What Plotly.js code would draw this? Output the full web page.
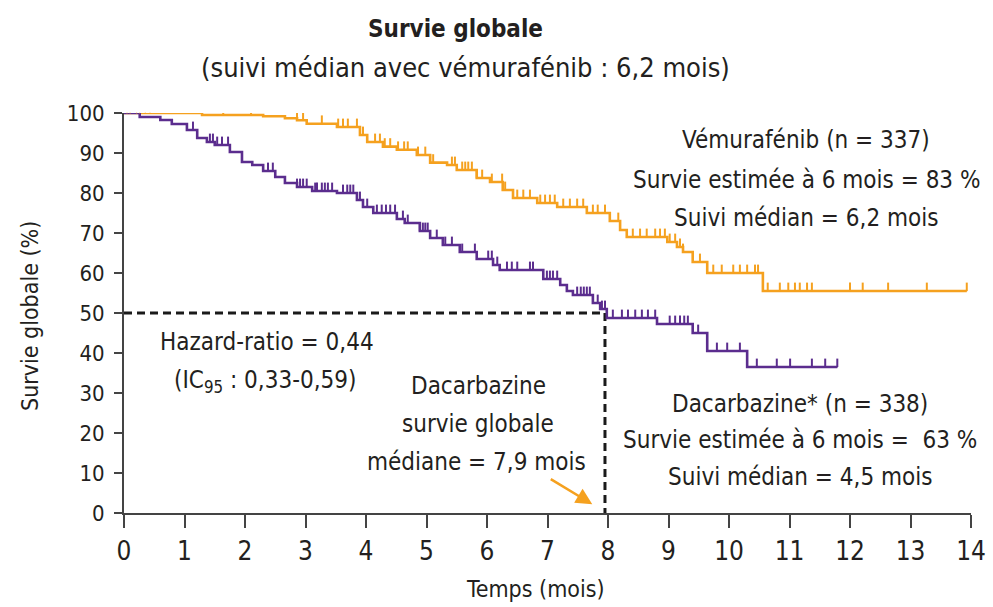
<!DOCTYPE html>
<html>
<head>
<meta charset="utf-8">
<script src="https://cdn.plot.ly/plotly-3.0.1.min.js"></script>
<style>html,body{margin:0;padding:0;background:#fff;}#chart{width:993px;height:607px;}</style>
</head>
<body>
<div id="chart"></div>
<script>
// ---- Data ----
// Vémurafénib: step times (months) and survival (%) after each step
const vemTimes = [0, 1.29, 2.30, 2.66, 2.86, 3.02, 3.52, 3.90, 4.02, 4.28, 4.51, 4.84, 5.06, 5.34, 5.50, 5.83, 6.05, 6.26, 6.43, 6.83, 7.16, 7.65, 8.03, 8.20, 8.31, 8.98, 9.14, 9.24, 9.40, 9.64, 10.56, 13.93];
const vemSurv  = [100, 99.5, 99.2, 98.7, 98.2, 97.3, 96.5, 94.5, 92.75, 91.6, 90.8, 89.5, 87.6, 87.0, 85.75, 83.75, 82.75, 80.75, 78.75, 77.5, 76.5, 75.0, 73.0, 70.75, 69.0, 67.75, 66.5, 65.25, 62.75, 60.0, 55.5, 55.5];
const vemCensor = [0.05, 0.10, 0.21, 0.26, 0.35, 0.43, 1.64, 2.10, 2.86, 2.96, 3.27, 3.54, 3.62, 3.70, 3.85, 3.95, 4.15, 4.23, 4.31, 4.40, 4.53, 4.63, 4.69, 4.86, 4.98, 5.06, 5.11, 5.42, 5.47, 5.59, 5.64, 5.69, 5.75, 5.83, 5.92, 6.08, 6.25, 6.30, 6.50, 6.60, 6.71, 6.88, 6.96, 7.04, 7.12, 7.26, 7.37, 7.49, 7.59, 7.75, 7.83, 7.95, 8.17, 8.41, 8.53, 8.64, 8.78, 8.86, 8.94, 9.02, 9.11, 9.19, 9.24, 9.52, 9.74, 9.88, 10.07, 10.18, 10.30, 10.43, 10.48, 10.64, 10.84, 10.98, 11.09, 11.17, 11.29, 11.37, 12.00, 12.21, 12.63, 13.27, 13.93];

// Dacarbazine
const dacTimes = [0, 0.26, 0.60, 0.79, 1.04, 1.21, 1.37, 1.50, 1.75, 1.95, 2.12, 2.30, 2.50, 2.66, 2.86, 3.11, 3.52, 3.85, 3.95, 4.12, 4.51, 4.64, 4.89, 5.06, 5.27, 5.55, 5.83, 6.10, 6.21, 6.93, 7.21, 7.32, 7.42, 7.75, 7.87, 7.98, 8.81, 9.40, 9.64, 10.30, 11.79];
const dacSurv  = [100, 99, 98.25, 97.25, 95.75, 93.75, 92.75, 92, 90.25, 87.75, 87, 85.5, 84, 82.5, 81.5, 80.5, 80, 78.25, 76.5, 75, 73.5, 72.5, 70.5, 68.75, 67, 65.25, 63.5, 62, 60.75, 58.5, 57, 55.5, 54.5, 52.5, 51, 48.75, 47.25, 45, 40.5, 36.5, 36.5];
const dacCensor = [1.14, 1.42, 1.47, 1.54, 1.62, 1.72, 2.38, 2.46, 2.86, 2.91, 2.96, 3.02, 3.16, 3.19, 3.27, 3.32, 3.37, 3.44, 3.62, 3.69, 3.74, 3.79, 3.90, 4.02, 4.18, 4.26, 4.33, 4.40, 4.48, 4.61, 4.69, 4.89, 4.94, 4.98, 5.02, 5.17, 5.31, 5.42, 5.59, 5.80, 6.02, 6.08, 6.17, 6.33, 6.41, 6.50, 6.71, 6.76, 6.99, 7.04, 7.09, 7.16, 7.49, 7.55, 7.60, 7.65, 7.70, 7.83, 7.90, 7.95, 8.08, 8.23, 8.33, 8.45, 8.56, 8.66, 8.78, 9.02, 9.11, 9.19, 9.26, 9.32, 9.49, 9.80, 9.97, 10.18, 10.46, 10.79, 11.01, 11.37, 11.59, 11.79];

const xTickVals = [0,1,2,3,4,5,6,7,8,9,10,11,12,13,14];
const yTickVals = [0,10,20,30,40,50,60,70,80,90,100];
const medianDac = 7.95;   // median OS dacarbazine (dashed guide)
const medianLevel = 50;

// ---- Helpers ----
function stepValue(times, surv, t) {
  let v = surv[0];
  for (let i = 0; i < times.length; i++) { if (times[i] <= t + 1e-9) v = surv[i]; }
  return v;
}
const ORANGE = '#F5A11F';
const PURPLE = '#5B2D8E';
const TXT = '#231F20';
const FONT = '"DejaVu Sans Condensed", "Liberation Sans Narrow", "Arial Narrow", sans-serif';

function censorTrace(times, surv, cens, color) {
  return {
    x: cens,
    y: cens.map(t => stepValue(times, surv, t)),
    mode: 'markers', type: 'scatter', cliponaxis: false, hoverinfo: 'skip',
    marker: {size: 1, color: color},
    error_y: {type: 'data', symmetric: false, array: cens.map(() => 2.1), arrayminus: cens.map(() => 0), width: 0, thickness: 2, color: color},
    showlegend: false
  };
}

const traces = [
  {x: vemTimes, y: vemSurv, mode: 'lines', type: 'scatter', line: {shape: 'hv', color: ORANGE, width: 2.6}, cliponaxis: false, showlegend: false, name: 'Vémurafénib'},
  {x: dacTimes, y: dacSurv, mode: 'lines', type: 'scatter', line: {shape: 'hv', color: PURPLE, width: 2.6}, cliponaxis: false, showlegend: false, name: 'Dacarbazine'},
  censorTrace(vemTimes, vemSurv, vemCensor, ORANGE),
  censorTrace(dacTimes, dacSurv, dacCensor, PURPLE)
];

// pixel -> paper helpers for text placement
const L = 124, R = 971, T = 113, B = 513;
const px = x => (x - L) / (R - L);
const py = y => (B - y) / (B - T);

function txt(x, y, text, size, extra) {
  return Object.assign({xref: 'paper', yref: 'paper', x: px(x), y: py(y), text: text, showarrow: false,
    xanchor: 'center', yanchor: 'middle', font: {family: FONT, size: size, color: TXT}}, extra || {});
}

const annotations = [
  txt(455, 29, '<b>Survie globale</b>', 24),
  txt(465, 68, '(suivi médian avec vémurafénib : 6,2 mois)', 27),
  txt(806, 140, 'Vémurafénib (n = 337)', 24),
  txt(806, 180, 'Survie estimée à 6 mois = 83 %', 24),
  txt(806, 218, 'Suivi médian = 6,2 mois', 24),
  txt(267, 342, 'Hazard-ratio = 0,44', 24),
  txt(265, 381, '(IC<sub>95</sub> : 0,33-0,59)', 24),
  txt(478, 386, 'Dacarbazine', 24),
  txt(478, 424, 'survie globale', 24),
  txt(476, 462, 'médiane = 7,9 mois', 24),
  txt(800, 404, 'Dacarbazine* (n = 338)', 24),
  txt(800, 440, 'Survie estimée à 6 mois =  63 %', 24),
  txt(800, 477, 'Suivi médian = 4,5 mois', 24),
  txt(535, 589, 'Temps (mois)', 23),
  txt(30, 316, 'Survie globale (%)', 23, {textangle: -90}),
  {xref: 'x', yref: 'y', x: 7.74, y: 2.2, text: '', showarrow: true, arrowhead: 2, arrowsize: 1.3, arrowwidth: 2.5,
   arrowcolor: ORANGE, ax: -43, ay: -26}
];

const shapes = [
  {type: 'line', xref: 'x', yref: 'y', x0: 0, x1: medianDac, y0: medianLevel, y1: medianLevel, line: {color: '#1a1a1a', width: 3, dash: '8px,5px'}, layer: 'below'},
  {type: 'line', xref: 'x', yref: 'y', x0: medianDac, x1: medianDac, y0: medianLevel, y1: 0, line: {color: '#1a1a1a', width: 3, dash: '8px,5px'}, layer: 'below'}
];

const layout = {
  width: 993, height: 607,
  margin: {l: L, r: 993 - R, t: T, b: 607 - B, pad: 0},
  paper_bgcolor: '#fff', plot_bgcolor: '#fff',
  font: {family: FONT, color: TXT},
  xaxis: {range: [0, 14], tickvals: xTickVals, ticktext: xTickVals.map(String), ticks: 'outside', ticklen: 13, tickwidth: 2, tickcolor: '#444',
    showline: true, linecolor: '#444', linewidth: 2, showgrid: false, zeroline: false, fixedrange: true,
    tickfont: {family: FONT, size: 26, color: TXT}, ticklabelstandoff: 1},
  yaxis: {range: [0, 100], tickvals: yTickVals, ticktext: yTickVals.map(String), ticks: 'outside', ticklen: 8, tickwidth: 2, tickcolor: '#444',
    showline: true, linecolor: '#444', linewidth: 2, showgrid: false, zeroline: false, fixedrange: true,
    tickfont: {family: FONT, size: 22, color: TXT}, ticklabelstandoff: 5},
  annotations: annotations,
  shapes: shapes,
  showlegend: false
};

Plotly.newPlot('chart', traces, layout, {staticPlot: true, displayModeBar: false});
</script>
</body>
</html>
